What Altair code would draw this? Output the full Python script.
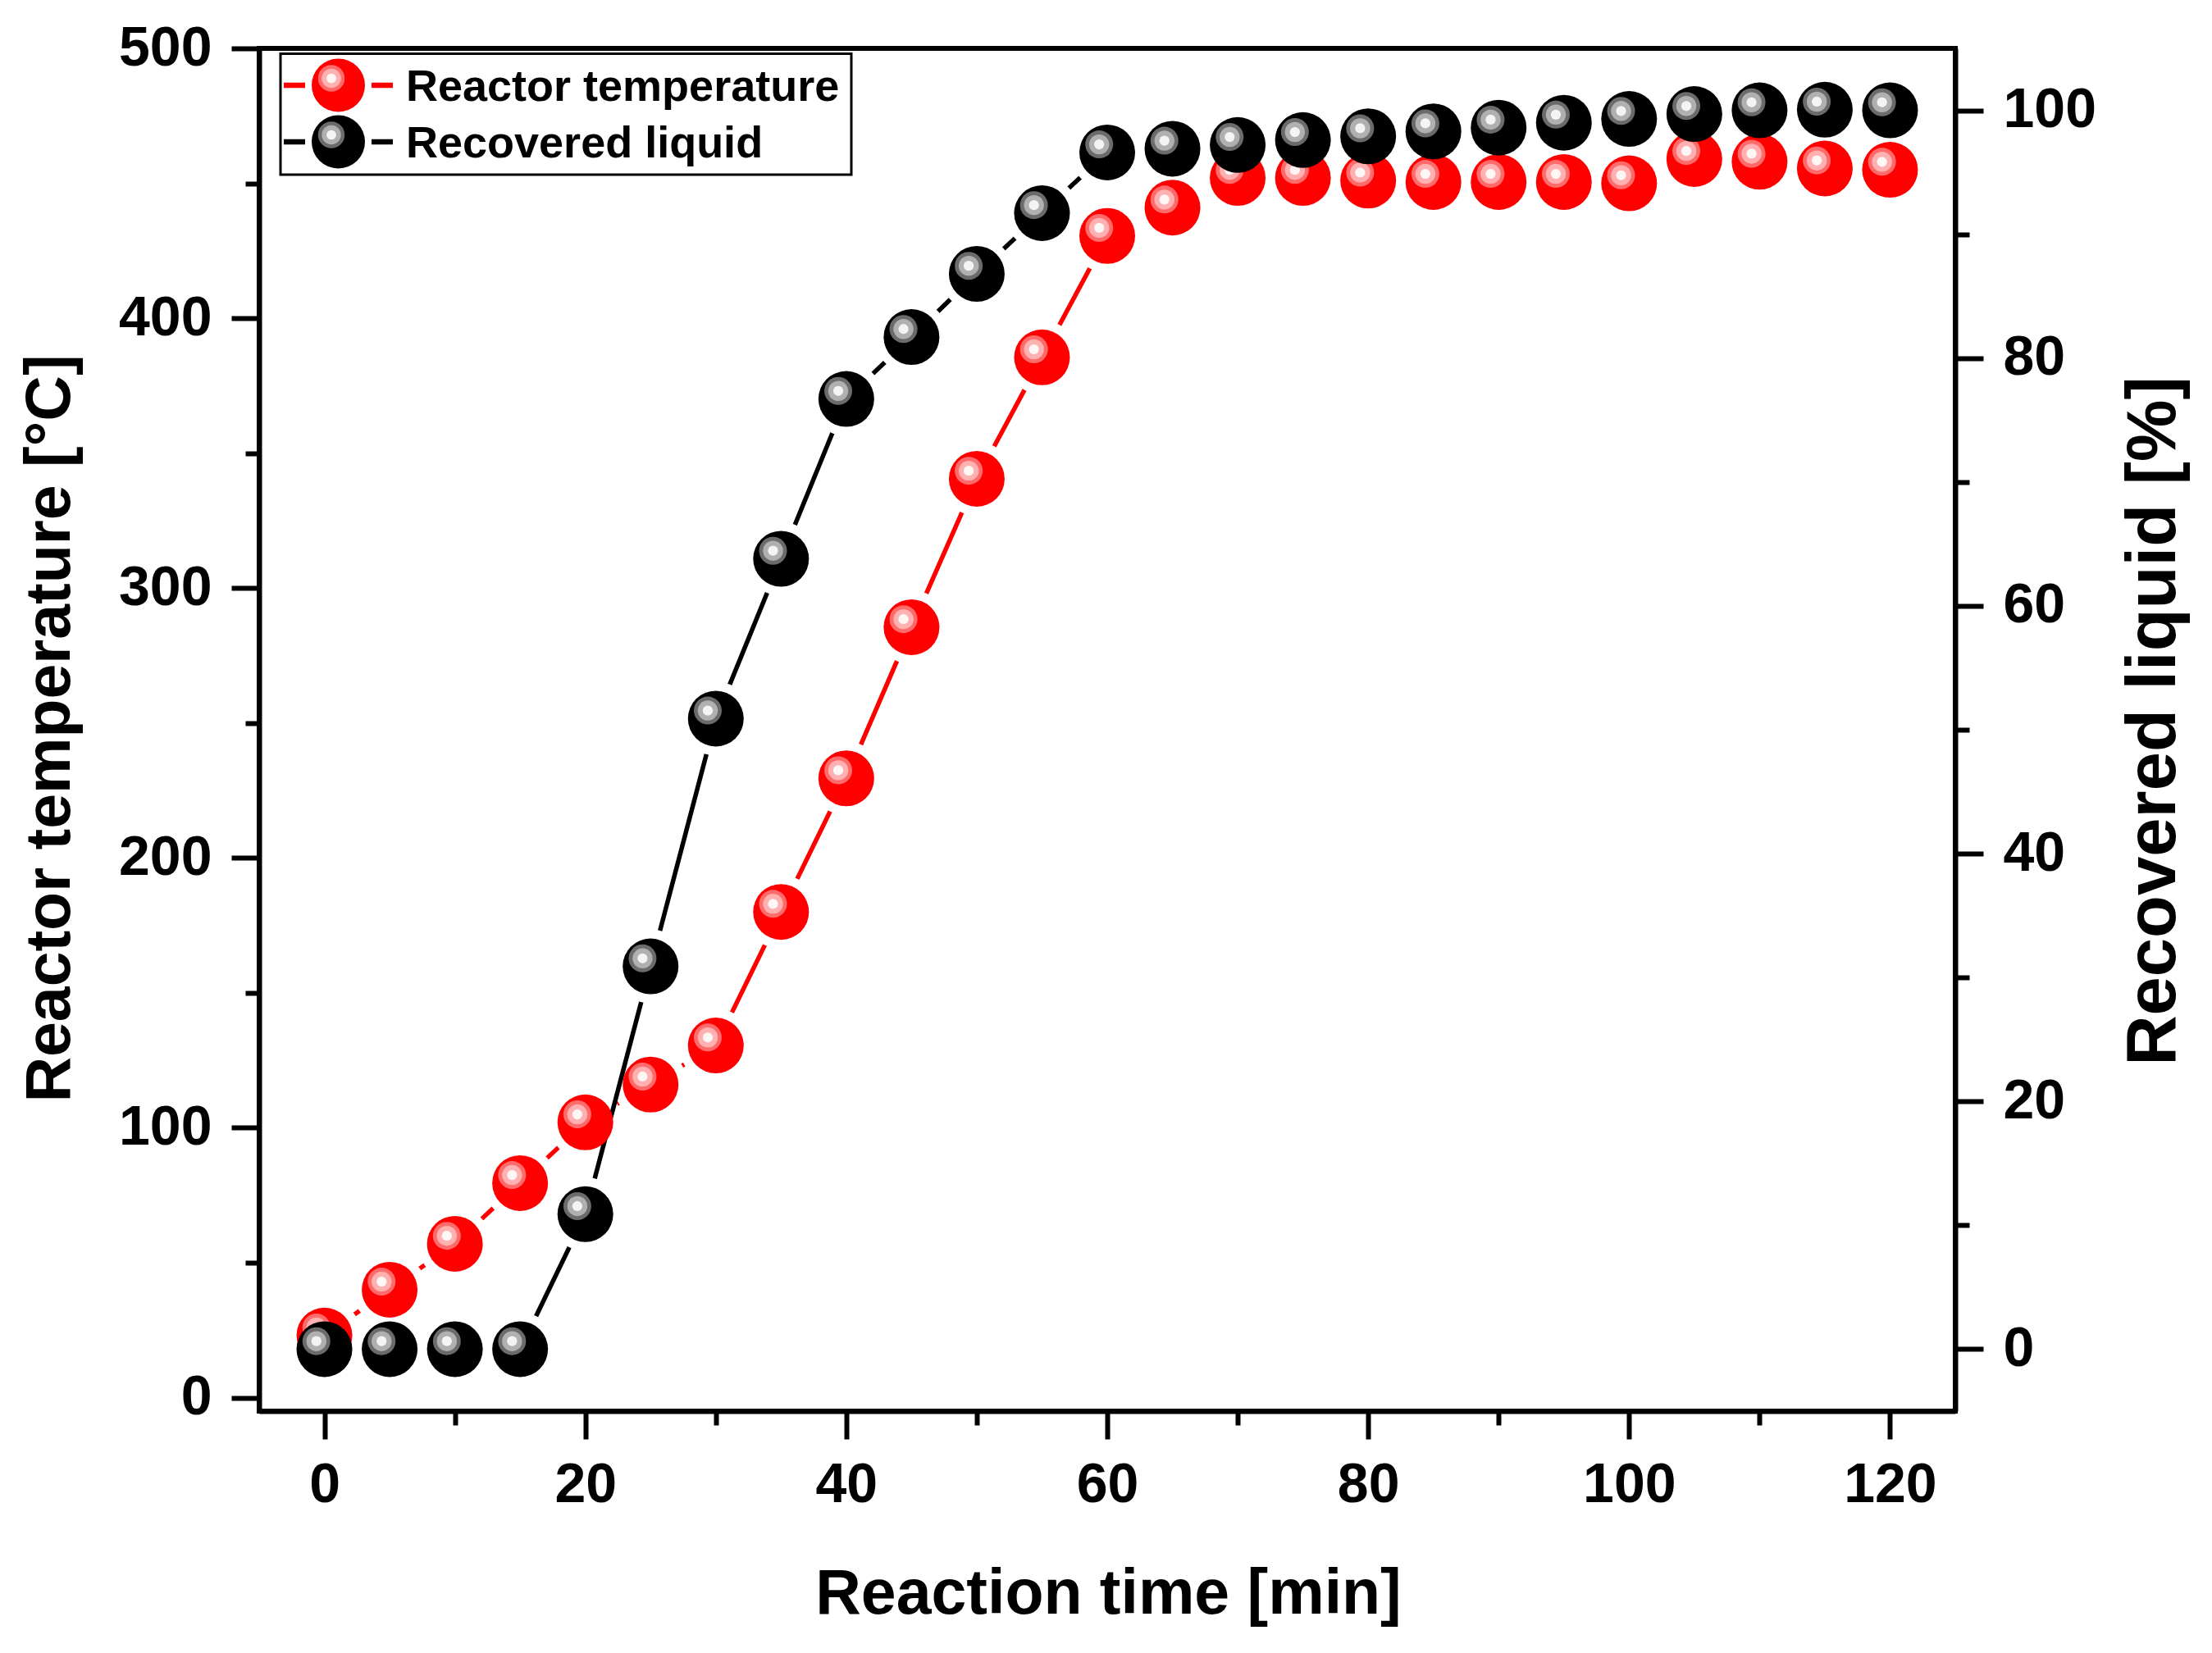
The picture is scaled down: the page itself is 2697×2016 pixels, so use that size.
import altair as alt
import pandas as pd

# ---------------- data ----------------
time_min = [0, 5, 10, 15, 20, 25, 30, 35, 40, 45, 50, 55, 60,
            65, 70, 75, 80, 85, 90, 95, 100, 105, 110, 115, 120]
reactor_temp = [23, 40, 57, 79.5, 102, 116, 130.5, 180, 229.5, 285.5, 340.5, 385.5, 430.5,
                441, 452, 452, 451, 450.5, 450.5, 450.5, 450, 459, 458, 455.5, 455]
recovered_liquid = [0, 0, 0, 0, 10.9, 30.9, 50.9, 63.8, 76.7, 81.7, 86.8, 91.7, 96.6,
                    96.9, 97.2, 97.6, 97.9, 98.3, 98.6, 99.0, 99.3, 99.7, 100.0, 100.05, 100.0]

x_ticks = list(range(0, 121, 10))
temp_ticks = list(range(0, 501, 50))
liq_ticks = list(range(0, 101, 10))

series_names = ["Reactor temperature", "Recovered liquid"]

df = pd.DataFrame({"t": time_min, "temp": reactor_temp, "liq": recovered_liquid})
legend_df = pd.DataFrame({"k": [0]})

FONT = "Liberation Sans"
W, H = 2068, 1662


def cond_tick(step, major=34, minor=17):
    return {"condition": {"test": f"datum.value % {step} === 0", "value": major}, "value": minor}


common_axis = dict(
    tickWidth=6, tickColor="black", domainWidth=6, domainColor="black",
    labelFont=FONT, labelFontSize=68, labelFontWeight="bold", labelColor="black",
    titleFont=FONT, titleFontWeight="bold", titleColor="black",
    grid=False, labelFlush=False, labelOverlap=False, zindex=1,
)

x_enc = alt.X(
    "t:Q",
    scale=alt.Scale(domain=[-5, 125], nice=False, zero=False),
    axis=alt.Axis(
        values=x_ticks,
        labelExpr="datum.value % 20 === 0 ? datum.label : ''",
        tickSize=cond_tick(20),
        labelBaseline="alphabetic", labelPadding=76,
        title="Reaction time [min]", titleFontSize=77,
        titleX=1035, titleY=246, titleBaseline="alphabetic", titleAlign="center",
        **common_axis,
    ),
)

temp_scale = alt.Scale(domain=[-5, 500], nice=False, zero=False)
liq_scale = alt.Scale(domain=[-5, 105], nice=False, zero=False)

y_temp = alt.Y(
    "temp:Q",
    scale=temp_scale,
    axis=alt.Axis(
        orient="left",
        values=temp_ticks,
        labelExpr="datum.value % 100 === 0 ? datum.label : ''",
        tickSize=cond_tick(100),
        labelPadding=24,
        title="Reactor temperature [°C]", titleFontSize=77,
        titleAngle=270, titleX=-232, titleY=829, titleBaseline="alphabetic", titleAlign="center",
        **common_axis,
    ),
)
y_temp_noaxis = alt.Y("temp:Q", scale=temp_scale, axis=None)

y_liq = alt.Y(
    "liq:Q",
    scale=liq_scale,
    axis=alt.Axis(
        orient="right",
        values=liq_ticks,
        labelExpr="datum.value % 20 === 0 ? datum.label : ''",
        tickSize=cond_tick(20),
        labelPadding=24,
        title="Recovered liquid [%]", titleFontSize=85,
        titleAngle=270, titleX=267, titleY=820, titleBaseline="alphabetic", titleAlign="center",
        **common_axis,
    ),
)
y_liq_noaxis = alt.Y("liq:Q", scale=liq_scale, axis=None)

RED = ["#FF0000", "#FF6A6A", "#FFB0B0", "#FFF6F6"]
BLACK = ["#000000", "#6B6B6B", "#B0B0B0", "#F4F4F4"]


def sphere(base, pal, d, off):
    main = base.mark_circle(size=d * d, color=pal[0], opacity=1)
    r1 = base.mark_circle(size=(d * 0.5) ** 2, color=pal[1], opacity=1, xOffset=off, yOffset=off)
    r2 = base.mark_circle(size=(d * 0.36) ** 2, color=pal[2], opacity=1, xOffset=off, yOffset=off)
    c = base.mark_circle(size=(d * 0.18) ** 2, color=pal[3], opacity=1, xOffset=off, yOffset=off)
    return [main, r1, r2, c]


def line_group(y_enc, color):
    base = alt.Chart(df).encode(x=x_enc, y=y_enc)
    line = base.mark_line(color=color, strokeWidth=5.5)
    gap = base.mark_circle(size=8100, color="white", opacity=1)  # gap round each symbol
    return alt.layer(line, gap)


red_lines = line_group(y_temp, "#FF0000")
blk_lines = line_group(y_liq, "#000000")
red_spheres = alt.layer(*sphere(alt.Chart(df).encode(x=x_enc, y=y_temp_noaxis), RED, 68, -9.8))
blk_spheres = alt.layer(*sphere(alt.Chart(df).encode(x=x_enc, y=y_liq_noaxis), BLACK, 68, -9.8))

# ---------------- legend ----------------
lb = alt.Chart(legend_df)
legend_layers = [
    lb.mark_rect(fill="white", stroke="black", strokeWidth=3).encode(
        x=alt.value(26), x2=alt.value(722), y=alt.value(6.5), y2=alt.value(154)),
]
for i, (name, pal) in enumerate(zip(series_names, [RED, BLACK])):
    yc = 45 + 69 * i
    legend_layers += [
        lb.mark_rule(color=pal[0], strokeWidth=6.5).encode(x=alt.value(30), x2=alt.value(56), y=alt.value(yc)),
        lb.mark_rule(color=pal[0], strokeWidth=6.5).encode(x=alt.value(137), x2=alt.value(163), y=alt.value(yc)),
    ]
    lbase = lb.encode(x=alt.value(96.5), y=alt.value(yc))
    legend_layers += sphere(lbase, pal, 65, -8.5)
    legend_layers.append(
        lb.mark_text(align="left", baseline="alphabetic", font=FONT, fontSize=54,
                     fontWeight="bold", color="black").encode(
            x=alt.value(179), y=alt.value(yc + 19.3), text=alt.value(name))
    )
legend_group = alt.layer(*legend_layers)

chart = alt.layer(red_lines, blk_lines, red_spheres, blk_spheres, legend_group).resolve_scale(
    y="independent"
).properties(
    width=W, height=H,
    padding={"left": 308, "top": 51, "right": 290, "bottom": 270},
    autosize=alt.AutoSizeParams(type="none"),
    background="white",
).configure_view(stroke="black", strokeWidth=6)

chart.save("out.html", embed_options={"renderer": "svg", "actions": False})
